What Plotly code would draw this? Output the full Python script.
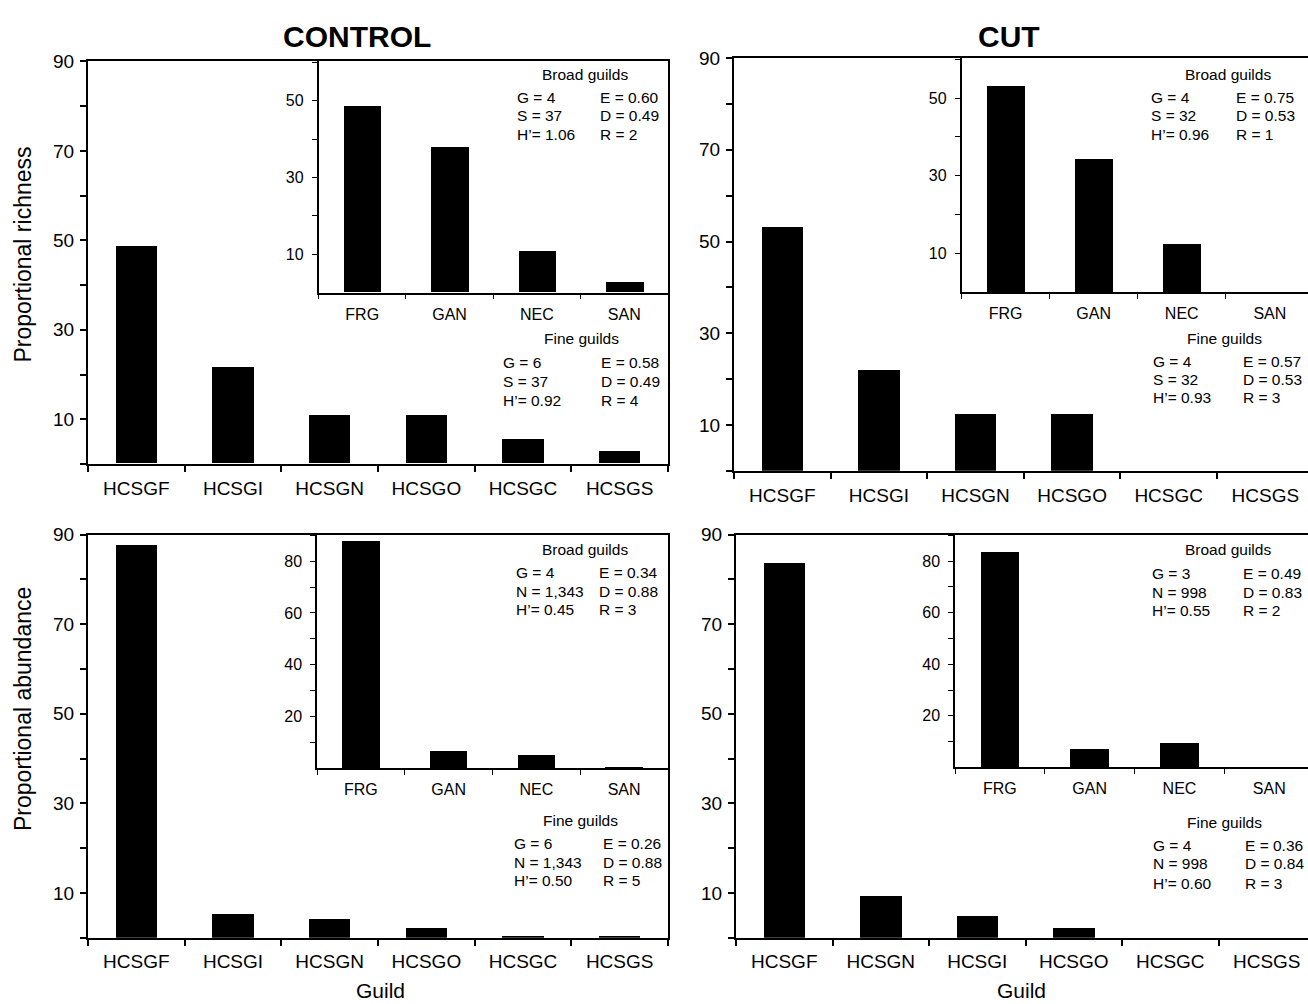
import plotly.graph_objects as go

W, H = 1308, 1004

# ---------------- data ----------------
fine_control = ["HCSGF", "HCSGI", "HCSGN", "HCSGO", "HCSGC", "HCSGS"]
fine_cut_rich = ["HCSGF", "HCSGI", "HCSGN", "HCSGO", "HCSGC", "HCSGS"]
fine_cut_abund = ["HCSGF", "HCSGN", "HCSGI", "HCSGO", "HCSGC", "HCSGS"]
broad = ["FRG", "GAN", "NEC", "SAN"]

control_rich_fine = [48.6, 21.6, 10.8, 10.8, 5.4, 2.7]
control_rich_broad = [48.6, 37.8, 10.8, 2.7]
cut_rich_fine = [53.1, 21.9, 12.5, 12.5, 0, 0]
cut_rich_broad = [53.1, 34.4, 12.5, 0]
control_abund_fine = [87.8, 5.3, 4.3, 2.2, 0.5, 0.5]
control_abund_broad = [87.8, 6.9, 5.3, 0.7]
cut_abund_fine = [83.8, 9.4, 4.9, 2.2, 0, 0]
cut_abund_broad = [83.8, 7.3, 9.6, 0]

main_y_ticks = [10, 30, 50, 70, 90]
main_y_minor = [0, 20, 40, 60, 80]
rich_inset_ticks = [10, 30, 50]
rich_inset_minor = [20, 40, 60]
abund_inset_ticks = [20, 40, 60, 80]
abund_inset_minor = [10, 30, 50, 70, 90]

stats = {
    "tl_broad": (["G = 4", "S = 37", "H\u2019= 1.06"], ["E = 0.60", "D = 0.49", "R = 2"]),
    "tl_fine": (["G = 6", "S = 37", "H\u2019= 0.92"], ["E = 0.58", "D = 0.49", "R = 4"]),
    "tr_broad": (["G = 4", "S = 32", "H\u2019= 0.96"], ["E = 0.75", "D = 0.53", "R = 1"]),
    "tr_fine": (["G = 4", "S = 32", "H\u2019= 0.93"], ["E = 0.57", "D = 0.53", "R = 3"]),
    "bl_broad": (["G = 4", "N = 1,343", "H\u2019= 0.45"], ["E = 0.34", "D = 0.88", "R = 3"]),
    "bl_fine": (["G = 6", "N = 1,343", "H\u2019= 0.50"], ["E = 0.26", "D = 0.88", "R = 5"]),
    "br_broad": (["G = 3", "N = 998", "H\u2019= 0.55"], ["E = 0.49", "D = 0.83", "R = 2"]),
    "br_fine": (["G = 4", "N = 998", "H\u2019= 0.60"], ["E = 0.36", "D = 0.84", "R = 3"]),
}

# ---------------- helpers ----------------
FONT = "Liberation Sans, Arial, sans-serif"


def px(x):
    return x / W


def py(y):
    return 1 - y / H


def xdom(x0, x1):
    return [px(x0), min(px(x1), 1.0)]


def ydom(ytop, ybot):
    return [py(ybot), py(ytop)]


fig = go.Figure()

panels = [
    ("", fine_control, control_rich_fine),
    ("2", fine_cut_rich, cut_rich_fine),
    ("3", fine_control, control_abund_fine),
    ("4", fine_cut_abund, cut_abund_fine),
    ("5", broad, control_rich_broad),
    ("6", broad, cut_rich_broad),
    ("7", broad, control_abund_broad),
    ("8", broad, cut_abund_broad),
]
for sid, cats, vals in panels:
    fig.add_trace(go.Bar(
        x=cats, y=vals, xaxis="x" + sid, yaxis="y" + sid,
        width=0.43, marker=dict(color="black", line=dict(width=0)),
        showlegend=False, hoverinfo="x+y",
    ))

main_font = dict(family=FONT, size=19, color="black")
inset_font = dict(family=FONT, size=16, color="black")


def main_x(dom, cats, rng, anchor):
    return dict(domain=dom, anchor=anchor, type="category", categoryorder="array",
                categoryarray=cats, range=rng, showline=True, linecolor="black",
                linewidth=2, mirror=True, ticks="outside", tickson="boundaries",
                ticklen=6, tickwidth=1.5, tickcolor="black", showgrid=False,
                zeroline=False, tickfont=main_font, ticklabelstandoff=6,
                fixedrange=True)


def main_y(dom, anchor, mirror):
    return dict(domain=dom, anchor=anchor, range=[0, 90], tickmode="array",
                tickvals=main_y_ticks, showline=True, linecolor="black", linewidth=2,
                mirror=mirror, ticks="outside", ticklen=6, tickwidth=1.5,
                tickcolor="black", showgrid=False, zeroline=False,
                tickfont=main_font, ticklabelstandoff=2,
                minor=dict(tickmode="array", tickvals=main_y_minor, ticks="outside",
                           ticklen=6, tickwidth=1.5, tickcolor="black", showgrid=False),
                fixedrange=True)


def inset_x(dom, rng, anchor):
    return dict(domain=dom, anchor=anchor, type="category", categoryorder="array",
                categoryarray=broad, range=rng, showline=True, linecolor="black",
                linewidth=1.5, ticks="outside", tickson="boundaries", ticklen=5,
                tickwidth=1, tickcolor="black", showgrid=False, zeroline=False,
                tickfont=inset_font, ticklabelstandoff=6, fixedrange=True)


def inset_y(dom, anchor, rng, tv, mv):
    return dict(domain=dom, anchor=anchor, range=rng, tickmode="array", tickvals=tv,
                showline=True, linecolor="black", linewidth=1.5, ticks="outside",
                ticklen=5, tickwidth=1, tickcolor="black", showgrid=False,
                zeroline=False, tickfont=inset_font, ticklabelstandoff=5,
                minor=dict(tickmode="array", tickvals=mv, ticks="outside", ticklen=5,
                           tickwidth=1, tickcolor="black", showgrid=False),
                fixedrange=True)


# main plots geometry (pixels)
tl_x = (88, 668)
tr_x = (734, 1308)
tr_range = [-0.5, -0.5 + (1308 - 734) / 96.6]
bl_x = (88, 668)
br_x = (736, 1308)
br_range = [-0.5, -0.5 + (1308 - 736) / 96.5]

layout = dict(
    width=W, height=H, margin=dict(l=0, r=0, t=0, b=0), autosize=False,
    paper_bgcolor="white", plot_bgcolor="rgba(0,0,0,0)",
    font=dict(family=FONT, color="black"), bargap=0,
    showlegend=False,
)
layout["xaxis"] = main_x(xdom(*tl_x), fine_control, [-0.5, 5.5], "y")
layout["yaxis"] = main_y(ydom(52, 458.5), "x", True)
layout["xaxis2"] = main_x(xdom(*tr_x), fine_cut_rich, tr_range, "y2")
layout["yaxis2"] = main_y(ydom(48.5, 465.5), "x2", False)
layout["xaxis3"] = main_x(xdom(*bl_x), fine_control, [-0.5, 5.5], "y3")
layout["yaxis3"] = main_y(ydom(530, 937), "x3", True)
layout["xaxis4"] = main_x(xdom(*br_x), fine_cut_abund, br_range, "y4")
layout["yaxis4"] = main_y(ydom(530, 937), "x4", False)

# insets
layout["xaxis5"] = inset_x(xdom(318.5, 668), [-0.5, 3.5], "y5")
layout["yaxis5"] = inset_y(ydom(52, 285.5), "x5", [0, 60.2], rich_inset_ticks, rich_inset_minor)
layout["xaxis6"] = inset_x(xdom(961.5, 1308), [-0.5, -0.5 + (1308 - 961.5) / 88.1], "y6")
layout["yaxis6"] = inset_y(ydom(48.5, 285), "x6", [0, 60.3], rich_inset_ticks, rich_inset_minor)
layout["xaxis7"] = inset_x(xdom(317, 668), [-0.5, 3.5], "y7")
layout["yaxis7"] = inset_y(ydom(530, 766), "x7", [0, 90.2], abund_inset_ticks, abund_inset_minor)
layout["xaxis8"] = inset_x(xdom(955, 1308), [-0.5, -0.5 + (1308 - 955) / 89.8], "y8")
layout["yaxis8"] = inset_y(ydom(530, 765), "x8", [0, 90.2], abund_inset_ticks, abund_inset_minor)

fig.update_layout(**layout)

ann = []


def text(x, y, s, size, xanchor="center", bold=False, angle=0):
    ann.append(dict(x=px(x), y=py(y), xref="paper", yref="paper",
                    text=("<b>%s</b>" % s) if bold else s,
                    showarrow=False, xanchor=xanchor, yanchor="middle", textangle=angle,
                    font=dict(family=FONT, size=size, color="black")))


# titles
text(357, 27, "CONTROL", 30, bold=True)
text(1009, 27, "CUT", 30, bold=True)
text(23, 247, "Proportional richness", 23, angle=-90)
text(23, 706, "Proportional abundance", 23, angle=-90)
text(380, 990, "Guild", 21)
text(1021, 990, "Guild", 21)

STAT = 15.5


def stat_block(key, title, cx, ty, lx, rx, rows):
    text(cx, ty, title, STAT)
    left, right = stats[key]
    for i in range(3):
        text(lx, rows[i], left[i], STAT, xanchor="left")
        text(rx, rows[i], right[i], STAT, xanchor="left")


stat_block("tl_broad", "Broad guilds", 585, 65, 515, 598, [88, 107, 126])
stat_block("tl_fine", "Fine guilds", 581, 332, 501, 599, [356, 375, 394])
stat_block("tr_broad", "Broad guilds", 1228, 65, 1149, 1234, [88, 107, 126])
stat_block("tr_fine", "Fine guilds", 1224, 332, 1151, 1241, [355, 373, 391])
stat_block("bl_broad", "Broad guilds", 585, 545, 514, 597, [568, 587, 606])
stat_block("bl_fine", "Fine guilds", 580, 819, 512, 601, [842, 861, 879])
stat_block("br_broad", "Broad guilds", 1228, 545, 1150, 1241, [569, 588, 607])
stat_block("br_fine", "Fine guilds", 1224, 821, 1151, 1243, [844, 862, 882])

fig.update_layout(annotations=ann)

fig.write_html("out.html", config={"displayModeBar": False})
